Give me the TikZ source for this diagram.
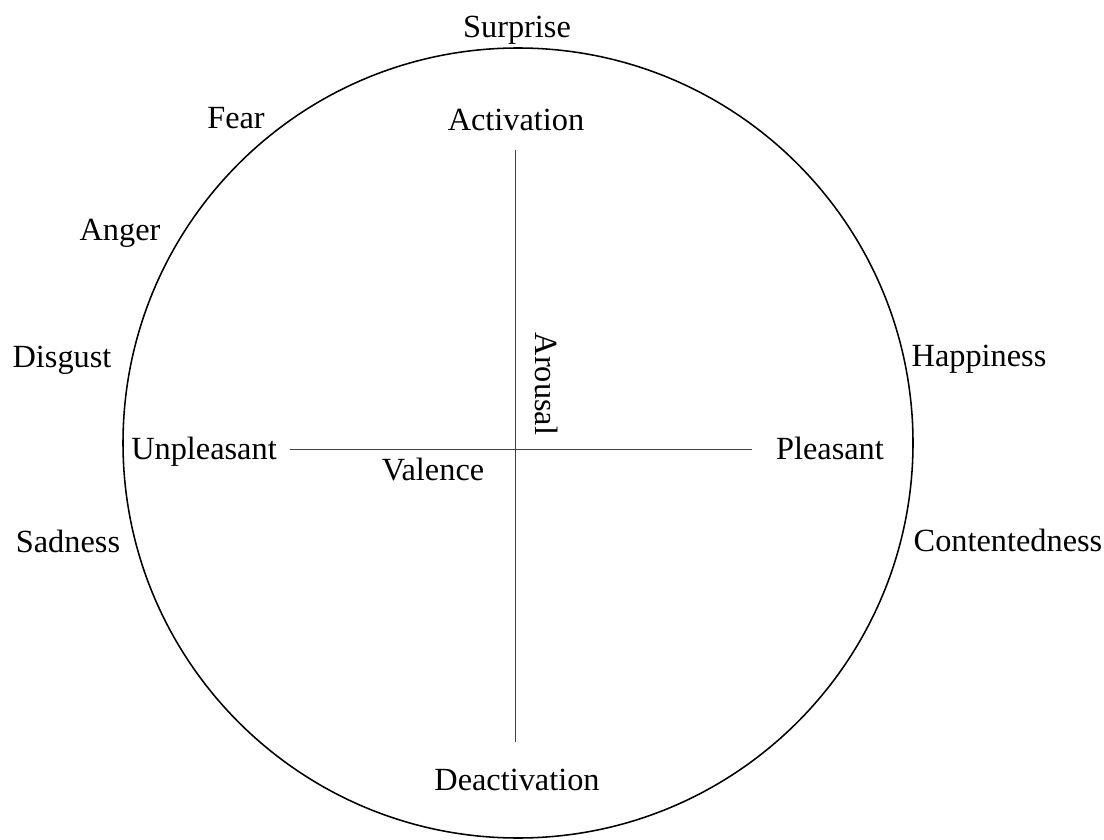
\documentclass[tikz,border=0pt]{standalone}
\usepackage{fontspec}
\setmainfont{Liberation Serif}
\usepackage{tikz}
\usetikzlibrary{positioning}

\begin{document}
\begin{tikzpicture}[
    label/.style={font=\fontsize{23}{27}\selectfont, inner sep=0pt, text height=1.55ex, text depth=.25ex},
    axis/.style={line width=0.6pt, black!75}
    ]
    	% Frame and circle:
    	\useasboundingbox (0, 0) rectangle (27.6, 20.975);
    	\coordinate (C) at (12.95, 9.9);
    	\draw[line width=1.1pt] (C) circle (9.875);
    	% Axes:
    	\coordinate (O) at (12.875, 9.75);
    	\coordinate (T) at (12.875, 17.225);
    	\coordinate (B) at (12.875, 2.425);
    	\coordinate (L) at (7.25, 9.75);
    	\coordinate (R) at (18.8, 9.75);
    	\draw[axis] (T) -- (B);
    	\draw[axis] (L) -- (R);
    	% Axis labels:
    	\node[label](act) at (12.9, 17.825){Activation};
    	\node[label](deact) at (12.925, 1.325){Deactivation};
    	\node[label](unpl) at (5.1, 9.6){Unpleasant};
    	\node[label](pl) at (20.75, 9.6){Pleasant};
    	\node[label](val) at (10.825, 9.075){Valence};
    	\node[label, rotate=-90](aro) at (13.5, 11.375){Arousal};
    	% Emotions:
    	\node[label](sur) at (12.925, 20.15){Surprise};
    	\node[label](fear) at (5.9, 17.875){Fear};
    	\node[label](ang) at (3.0, 15.075){Anger};
    	\node[label](dis) at (1.55, 11.9){Disgust};
    	\node[label](sad) at (1.7, 7.275){Sadness};
    	\node[label](hap) at (24.475, 11.925){Happiness};
    	\node[label](con) at (25.2, 7.3){Contentedness};
\end{tikzpicture}
\end{document}
